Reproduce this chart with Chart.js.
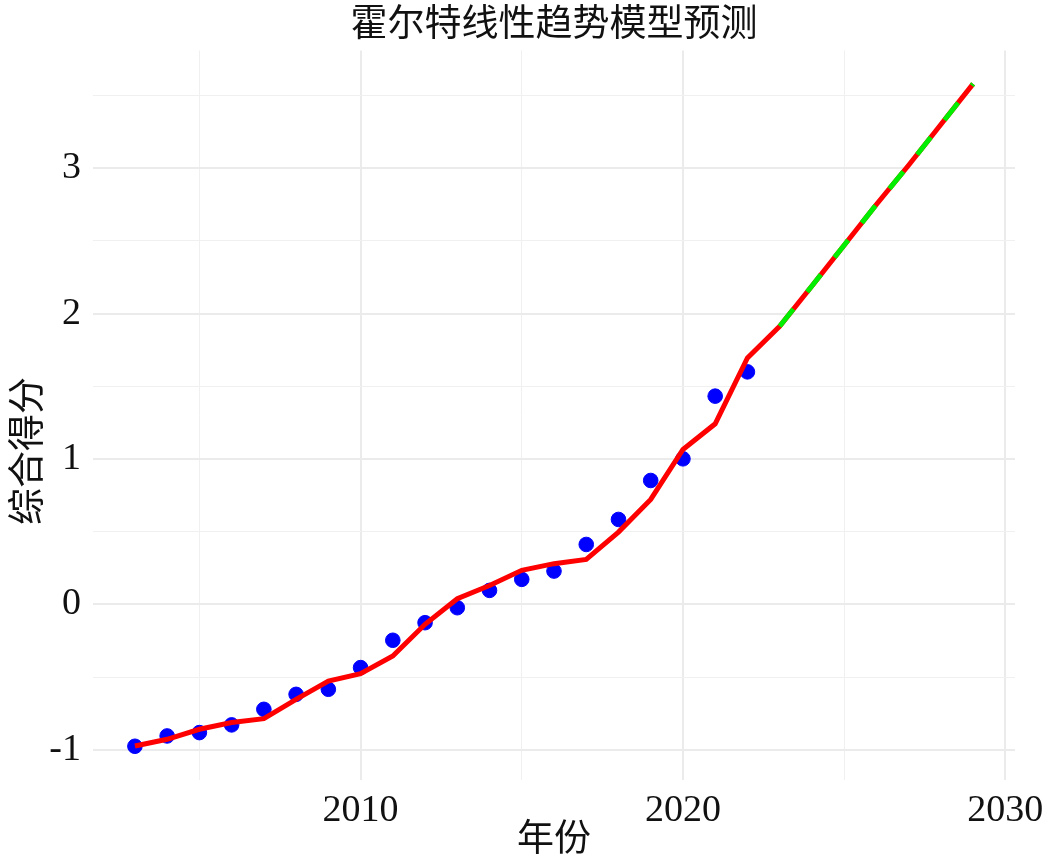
<!DOCTYPE html>
<html>
<head>
<meta charset="utf-8">
<script src="https://cdn.jsdelivr.net/npm/chart.js@4"></script>
<style>
    html, body { margin: 0; padding: 0; background: #ffffff; }
    #wrap { width: 1054px; height: 863px; }
</style>
</head>
<body>
<div id="wrap"><canvas id="chart" width="1054" height="863"></canvas></div>
<script>
const years = [2003, 2004, 2005, 2006, 2007, 2008, 2009, 2010, 2011, 2012,
    2013, 2014, 2015, 2016, 2017, 2018, 2019, 2020, 2021, 2022];
const observed = [-0.976, -0.905, -0.882, -0.829, -0.722, -0.619, -0.584, -0.435, -0.247, -0.126,
    -0.023, 0.096, 0.172, 0.229, 0.412, 0.584, 0.852, 1.001, 1.432, 1.599];
const fitted = [-0.974, -0.928, -0.859, -0.813, -0.786, -0.653, -0.527, -0.477, -0.355, -0.137,
    0.039, 0.130, 0.234, 0.280, 0.309, 0.497, 0.722, 1.065, 1.242, 1.695];
const forecastYears = [2023, 2024, 2025, 2026, 2027, 2028, 2029];
const forecast = [1.913, 2.19, 2.47, 2.75, 3.02, 3.30, 3.58];
const xTicks = [2005, 2010, 2015, 2020, 2025, 2030];
const yTicks = [-1, -0.5, 0, 0.5, 1, 1.5, 2, 2.5, 3, 3.5];

const serif = "'Liberation Serif', 'Noto Sans CJK SC', serif";

const toPoints = (xs, ys) => xs.map((x, i) => ({ x: x, y: ys[i] }));

// y axis title drawn by hand so it can sit where the reference puts it
const yTitlePlugin = {
    id: "yTitle",
    afterDraw(chart) {
        const ctx = chart.ctx;
        ctx.save();
        ctx.translate(30, 451);
        ctx.rotate(-Math.PI / 2);
        ctx.font = "37px " + serif;
        ctx.fillStyle = "#111111";
        ctx.textAlign = "center";
        ctx.textBaseline = "middle";
        ctx.fillText("综合得分", 0, 0);
        ctx.restore();
    },
};

new Chart(document.getElementById("chart").getContext("2d"), {
    type: "scatter",
    data: {
        datasets: [
            {
                type: "line",
                data: toPoints(forecastYears, forecast),
                borderColor: "#00ee00",
                borderWidth: 5,
                borderDash: [22, 22],
                pointRadius: 0,
                fill: false,
                order: 0,
            },
            {
                type: "line",
                data: toPoints(years.concat(forecastYears), fitted.concat(forecast)),
                borderColor: "#ff0000",
                borderWidth: 5,
                pointRadius: 0,
                fill: false,
                order: 1,
            },
            {
                data: toPoints(years, observed),
                backgroundColor: "#0000ff",
                borderColor: "#0000ff",
                pointRadius: 7.3,
                order: 2,
            },
        ],
    },
    plugins: [yTitlePlugin],
    options: {
        responsive: false,
        animation: false,
        layout: { padding: { left: 0, right: 39, top: 0, bottom: 0 } },
        plugins: {
            legend: { display: false },
            tooltip: { enabled: false },
            title: {
                display: true,
                text: "霍尔特线性趋势模型预测",
                fullSize: false,
                color: "#111111",
                font: { family: serif, size: 37, weight: "normal" },
                padding: { top: 4, bottom: 2 },
            },
        },
        scales: {
            x: {
                type: "linear",
                min: 2001.7,
                max: 2030.3,
                afterBuildTicks: (scale) => { scale.ticks = xTicks.map((v) => ({ value: v })); },
                afterFit: (scale) => { scale.height = 83; },
                border: { display: false },
                grid: {
                    drawTicks: false,
                    color: (c) => (c.tick && c.tick.value % 10 === 0 ? "#ebebeb" : "#f0f0f0"),
                    lineWidth: (c) => (c.tick && c.tick.value % 10 === 0 ? 2 : 1),
                },
                ticks: {
                    padding: 8,
                    color: "#111111",
                    font: { family: serif, size: 38 },
                    callback: (v) => (v % 10 === 0 ? String(v) : ""),
                },
                title: {
                    display: true,
                    text: "年份",
                    color: "#111111",
                    font: { family: serif, size: 37 },
                    padding: { top: 0, bottom: 0 },
                },
            },
            y: {
                type: "linear",
                min: -1.208,
                max: 3.81,
                afterBuildTicks: (scale) => { scale.ticks = yTicks.map((v) => ({ value: v })); },
                afterFit: (scale) => { scale.width = 93; },
                border: { display: false },
                grid: {
                    drawTicks: false,
                    color: (c) => (c.tick && Number.isInteger(c.tick.value) ? "#ebebeb" : "#f0f0f0"),
                    lineWidth: (c) => (c.tick && Number.isInteger(c.tick.value) ? 2 : 1),
                },
                ticks: {
                    padding: 12,
                    color: "#111111",
                    font: { family: serif, size: 38 },
                    callback: (v) => (Number.isInteger(v) ? String(v) : ""),
                },
            },
        },
    },
});
</script>
</body>
</html>
